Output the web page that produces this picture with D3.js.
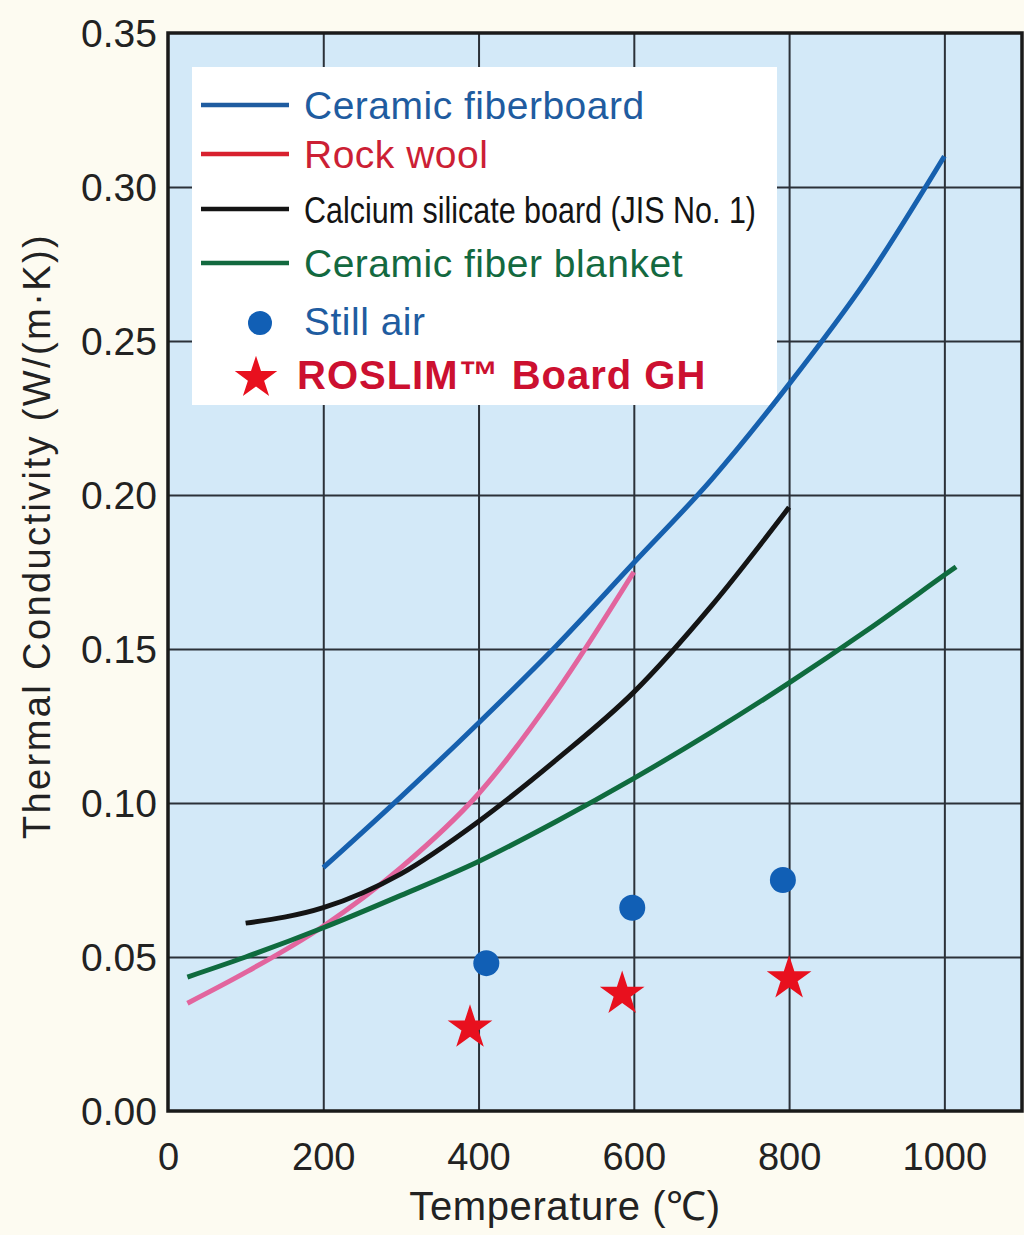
<!DOCTYPE html>
<html>
<head>
<meta charset="utf-8">
<script src="https://cdn.jsdelivr.net/npm/d3@7"></script>
<style>
  html, body { margin: 0; padding: 0; background: #fdfbf1; }
  svg { display: block; font-family: "Liberation Sans", Arial, sans-serif; }
</style>
</head>
<body>
<div id="container"></div>
<script>
const width = 1024
const height = 1235
const plot = { left: 168, right: 1022, top: 33, bottom: 1111 }

//-----------------------------DATA-----------------------------//
const xTicks = [0, 200, 400, 600, 800, 1000]
const yTicks = [0, 0.05, 0.10, 0.15, 0.20, 0.25, 0.30, 0.35]

// [temperature, conductivity]
const ceramicFiberboard = [[200, 0.079], [300, 0.102], [400, 0.126], [500, 0.151], [600, 0.178],
  [700, 0.205], [800, 0.236], [900, 0.270], [1000, 0.310]]
const rockWool = [[25, 0.035], [100, 0.045], [200, 0.060], [300, 0.079], [400, 0.103],
  [500, 0.136], [600, 0.175]]
const calciumSilicate = [[100, 0.061], [200, 0.066], [300, 0.077], [400, 0.094], [500, 0.114],
  [600, 0.136], [700, 0.164], [800, 0.196]]
const fiberBlanket = [[25, 0.0435], [100, 0.050], [200, 0.0595], [300, 0.070], [400, 0.081],
  [500, 0.094], [600, 0.108], [700, 0.123], [800, 0.139], [900, 0.156], [1000, 0.174], [1015, 0.1767]]
const stillAir = [[410, 0.048], [598, 0.066], [792, 0.075]]
const roslim = [[389, 0.027], [585, 0.038], [800, 0.043]]

const series = [
  { name: 'Ceramic fiberboard', values: ceramicFiberboard, color: '#1660ae', key: '#1f5ca0' },
  { name: 'Rock wool', values: rockWool, color: '#e2659e', key: '#d8202e', text: '#cc1f35' },
  { name: 'Calcium silicate board (JIS No. 1)', values: calciumSilicate, color: '#141414', key: '#141414', narrow: true },
  { name: 'Ceramic fiber blanket', values: fiberBlanket, color: '#0f6b3e', key: '#13693f' }
]

//----------------------------SCALES----------------------------//
const xScale = d3.scaleLinear().domain([0, 1100]).range([plot.left, plot.right])
const yScale = d3.scaleLinear().domain([0, 0.35]).range([plot.bottom, plot.top])

const svg = d3.select('div#container').append('svg')
    .attr('width', width)
    .attr('height', height)

svg.append('rect')
    .attr('width', width).attr('height', height)
    .attr('fill', '#fdfbf1')

svg.append('rect')
    .attr('x', plot.left).attr('y', plot.top)
    .attr('width', plot.right - plot.left)
    .attr('height', plot.bottom - plot.top)
    .attr('fill', '#d3e9f8')

//-----------------------------GRID-----------------------------//
const gridX = svg.append('g')
    .attr('transform', 'translate(0,' + plot.bottom + ')')
    .call(d3.axisBottom(xScale).tickValues(xTicks.slice(1)).tickSize(-(plot.bottom - plot.top)).tickFormat(''))
gridX.select('.domain').remove()
gridX.selectAll('line').attr('stroke', '#2b3138').attr('stroke-width', 2)

const gridY = svg.append('g')
    .attr('transform', 'translate(' + plot.left + ',0)')
    .call(d3.axisLeft(yScale).tickValues(yTicks.slice(1, -1)).tickSize(-(plot.right - plot.left)).tickFormat(''))
gridY.select('.domain').remove()
gridY.selectAll('line').attr('stroke', '#2b3138').attr('stroke-width', 2)

//----------------------------LEGEND BOX-------------------------//
svg.append('rect')
    .attr('x', 192).attr('y', 67)
    .attr('width', 585).attr('height', 338)
    .attr('fill', '#ffffff')

//----------------------------LINES-----------------------------//
const line = d3.line()
    .x(d => xScale(d[0]))
    .y(d => yScale(d[1]))
    .curve(d3.curveMonotoneX)

svg.selectAll('path.series')
    .data(series)
    .enter()
    .append('path')
    .attr('class', 'series')
    .attr('d', d => line(d.values))
    .attr('fill', 'none')
    .attr('stroke', d => d.color)
    .attr('stroke-width', 5)

svg.selectAll('circle.air')
    .data(stillAir)
    .enter()
    .append('circle')
    .attr('class', 'air')
    .attr('cx', d => xScale(d[0]))
    .attr('cy', d => yScale(d[1]))
    .attr('r', 13)
    .attr('fill', '#115fb5')

const star = d3.symbol().type(d3.symbolStar).size(620)
svg.selectAll('path.star')
    .data(roslim)
    .enter()
    .append('path')
    .attr('class', 'star')
    .attr('transform', d => 'translate(' + xScale(d[0]) + ',' + yScale(d[1]) + ')')
    .attr('d', star)
    .attr('fill', '#e8101e')

//-----------------------------FRAME----------------------------//
svg.append('rect')
    .attr('x', plot.left).attr('y', plot.top)
    .attr('width', plot.right - plot.left)
    .attr('height', plot.bottom - plot.top)
    .attr('fill', 'none')
    .attr('stroke', '#1a1a1a')
    .attr('stroke-width', 3.5)

//-----------------------------AXES-----------------------------//
const xAxis = svg.append('g')
    .attr('transform', 'translate(0,' + plot.bottom + ')')
    .call(d3.axisBottom(xScale).tickValues(xTicks).tickSize(0).tickFormat(d3.format('d')))
xAxis.select('.domain').remove()
xAxis.selectAll('text')
    .attr('y', 59).attr('dy', null)
    .attr('font-size', 38)
    .attr('font-family', '"Liberation Sans", Arial, sans-serif')
    .attr('fill', '#222')

const yAxis = svg.append('g')
    .attr('transform', 'translate(' + plot.left + ',0)')
    .call(d3.axisLeft(yScale).tickValues(yTicks).tickSize(0).tickFormat(d3.format('.2f')))
yAxis.select('.domain').remove()
yAxis.selectAll('text')
    .attr('x', -11).attr('dy', 13)
    .attr('font-size', 39)
    .attr('font-family', '"Liberation Sans", Arial, sans-serif')
    .attr('fill', '#222')

svg.append('text')
    .attr('x', 565)
    .attr('y', 1220)
    .attr('text-anchor', 'middle')
    .attr('font-size', 40)
    .attr('letter-spacing', 0.6)
    .attr('fill', '#222')
    .text('Temperature (℃)')

svg.append('text')
    .attr('transform', 'translate(50,536) rotate(-90)')
    .attr('text-anchor', 'middle')
    .attr('font-size', 38)
    .attr('letter-spacing', 2.4)
    .attr('fill', '#222')
    .text('Thermal Conductivity (W/(m·K))')

//----------------------------LEGEND----------------------------//
const rowY = [105, 154, 209, 263]
const legend = svg.append('g')
series.forEach((s, i) => {
    legend.append('line')
        .attr('x1', 201).attr('x2', 289)
        .attr('y1', rowY[i]).attr('y2', rowY[i])
        .attr('stroke', s.key)
        .attr('stroke-width', 4.5)
    const t = legend.append('text')
        .attr('x', 304)
        .attr('y', rowY[i] + 14)
        .attr('font-size', s.narrow ? 36 : 39)
        .attr('letter-spacing', s.narrow ? 0 : 0.5)
        .attr('fill', s.text || s.key)
        .text(s.name)
    if (s.narrow) t.attr('textLength', 452).attr('lengthAdjust', 'spacingAndGlyphs')
})

legend.append('circle')
    .attr('cx', 260).attr('cy', 323).attr('r', 12)
    .attr('fill', '#115fb5')
legend.append('text')
    .attr('x', 304).attr('y', 335)
    .attr('font-size', 39)
    .attr('letter-spacing', 0.5)
    .attr('fill', '#1f5ca0')
    .text('Still air')

legend.append('path')
    .attr('transform', 'translate(256,378)')
    .attr('d', d3.symbol().type(d3.symbolStar).size(560))
    .attr('fill', '#e8101e')
legend.append('text')
    .attr('x', 297).attr('y', 389)
    .attr('font-size', 40)
    .attr('font-weight', 'bold')
    .attr('letter-spacing', 1)
    .attr('fill', '#cc1030')
    .text('ROSLIM™ Board GH')
</script>
</body>
</html>
